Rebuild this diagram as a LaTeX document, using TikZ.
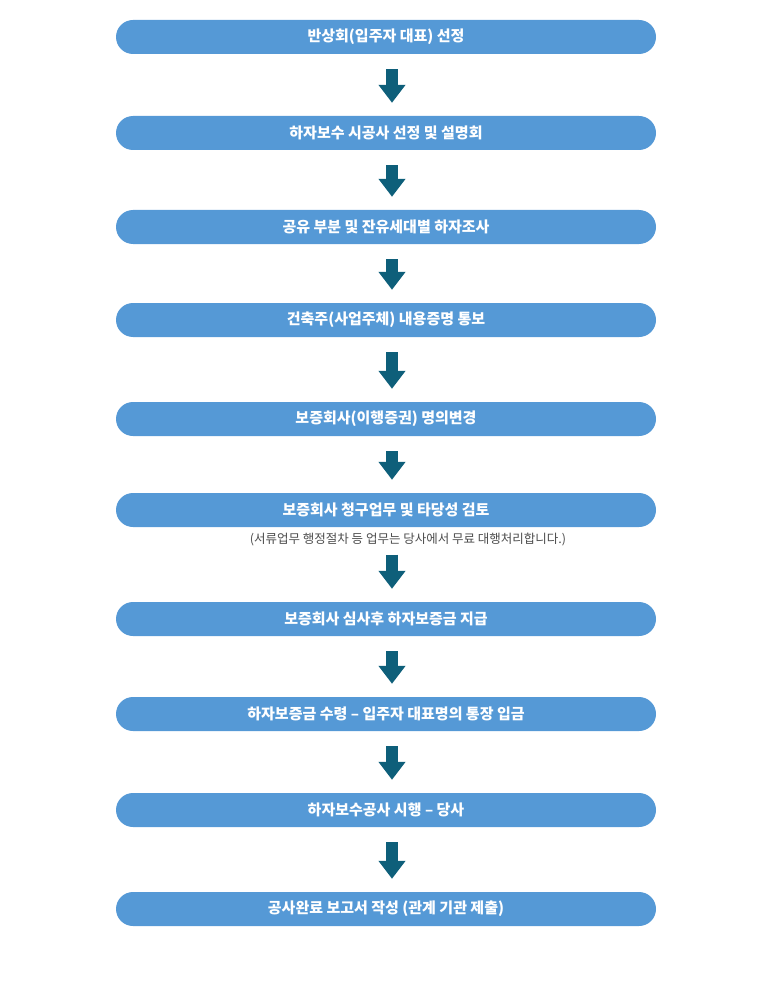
\documentclass[tikz,border=0pt]{standalone}
\usepackage{fontspec}
\setmainfont{Noto Sans CJK KR}
\usetikzlibrary{positioning,arrows.meta}
\definecolor{stepblue}{HTML}{5599D6}
\definecolor{arrowteal}{HTML}{0E5F7A}
\tikzset{
    stepbox/.style={fill=stepblue, rounded corners=17pt, minimum width=540pt, minimum height=34pt,
        text=white, font=\fontsize{15}{18}\selectfont\bfseries, inner sep=0pt},
    flowarrow/.style={draw=arrowteal, line width=12pt, shorten <=15pt, shorten >=13pt,
        -{Triangle[width=26pt,length=18pt]}},
}
\begin{document}
\begin{tikzpicture}[x=1pt,y=-1pt]
    \useasboundingbox (0,0) rectangle (770,1000);

    % Steps
    \node[stepbox] (s1) at (386,37) {반상회(입주자 대표) 선정};
    \node[stepbox] (s2) at (386,133) {하자보수 시공사 선정 및 설명회};
    \node[stepbox] (s3) at (386,227) {공유 부분 및 잔유세대별 하자조사};
    \node[stepbox] (s4) at (386,320) {건축주(사업주체) 내용증명 통보};
    \node[stepbox] (s5) at (386,419) {보증회사(이행증권) 명의변경};
    \node[stepbox] (s6) at (386,510) {보증회사 청구업무 및 타당성 검토};
    \node[font=\fontsize{12.5}{15}\selectfont, text=black!70, inner sep=0pt] (n6) at (408,540)
        {(서류업무 행정절차 등 업무는 당사에서 무료 대행처리합니다.)};
    \node[stepbox] (s7) at (386,619) {보증회사 심사후 하자보증금 지급};
    \node[stepbox] (s8) at (386,714) {하자보증금 수령 – 입주자 대표명의 통장 입금};
    \node[stepbox] (s9) at (386,810) {하자보수공사 시행 – 당사};
    \node[stepbox] (s10) at (386,909) {공사완료 보고서 작성 (관계 기관 제출)};

    % Arrows
    \foreach \a/\b in {s1/s2,s2/s3,s3/s4,s4/s5,s5/s6,s7/s8,s8/s9,s9/s10} {
        \draw[flowarrow] ([xshift=6pt]\a.south) -- ([xshift=6pt]\b.north);
    }
    \draw[flowarrow, shorten <=8pt] ([xshift=-16pt]n6.south) -- ([xshift=6pt]s7.north);
\end{tikzpicture}
\end{document}
